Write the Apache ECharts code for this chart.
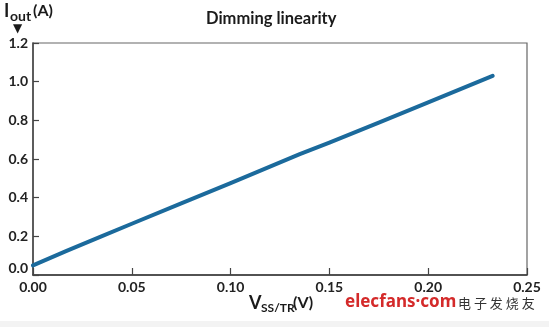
<!DOCTYPE html>
<html><head><meta charset="utf-8">
<script src="https://cdn.jsdelivr.net/npm/echarts@6/dist/echarts.min.js"></script>
<style>html,body{margin:0;padding:0;background:#fff}#c{width:549px;height:327px}</style>
</head><body><div id="c"></div>
<script>
const vss = [0, 0.017, 0.034, 0.05, 0.075, 0.1, 0.135, 0.15, 0.175, 0.2, 0.2326];
const iout = [0.05, 0.125, 0.197, 0.265, 0.37, 0.475, 0.625, 0.685, 0.788, 0.893, 1.03];
const yTicks = [0, 0.2, 0.4, 0.6, 0.8, 1.0, 1.2];
const xTicks = [0, 0.05, 0.10, 0.15, 0.20, 0.25];
const FONT = 'Lato, "DejaVu Sans", sans-serif';
function T(x, y, text, size, color, family) {
  return {type: 'text', left: x, top: y, style: {text: text, fontSize: size, fontWeight: 'bold',
    fontFamily: family || FONT, fill: color || '#1a1a1a'}};
}
const chart = echarts.init(document.getElementById('c'), null, {renderer: 'canvas'});
chart.setOption({
  animation: false,
  backgroundColor: '#fff',
  grid: {left: 33, right: 22, top: 43, bottom: 52, show: true, borderColor: '#666', borderWidth: 1.2},
  xAxis: {
    type: 'value', min: 0, max: 0.25, interval: 0.05,
    axisLine: {show: true, onZero: false, lineStyle: {color: '#333', width: 1.5}},
    axisTick: {show: true, inside: true, length: 7, lineStyle: {color: '#444', width: 1.2}},
    splitLine: {show: false},
    axisLabel: {color: '#222', fontFamily: FONT, fontWeight: 'bold', fontSize: 14, margin: 5,
      formatter: v => v.toFixed(2)}
  },
  yAxis: {
    type: 'value', min: 0, max: 1.2, interval: 0.2,
    axisLine: {show: true, lineStyle: {color: '#444', width: 1.5}},
    axisTick: {show: true, inside: true, length: 6, lineStyle: {color: '#444', width: 1.2}},
    splitLine: {show: false},
    axisLabel: {color: '#222', fontFamily: FONT, fontWeight: 'bold', fontSize: 14, margin: 5,
      formatter: v => v === 0 ? '{z|0.0}' : v.toFixed(1),
      rich: {z: {fontFamily: FONT, fontWeight: 'bold', fontSize: 14, color: '#222', padding: [0, 0, 14, 0]}}}
  },
  series: [{
    type: 'line', data: vss.map((x, i) => [x, iout[i]]),
    showSymbol: false, smooth: false,
    lineStyle: {color: '#1b6a9c', width: 4, cap: 'round', join: 'round'}
  }],
  graphic: [
    T(206, 10, 'Dimming linearity', 16.5),
    T(4, 2, 'I', 18),
    T(10, 9, 'out', 14),
    T(33, 3, '(A)', 16),
    {type: 'text', left: 13, top: 23, style: {text: '▼', fontSize: 12, fontFamily: '"DejaVu Sans"', fill: '#1a1a1a'}},
    T(249, 294, 'V', 18),
    T(261, 302, 'SS/TR', 12),
    T(293, 295, '(V)', 16),
    T(345, 294, 'elecfans·com', 17, '#d42a2a', '"Noto Sans", sans-serif'),
    {type: 'text', left: 458, top: 297, style: {text: '电 子 发 烧 友', fontSize: 13, fontFamily: '"Noto Sans CJK SC"', fill: '#333'}},
    {type: 'rect', left: 0, top: 321, shape: {width: 549, height: 6}, style: {fill: '#f3f3f3'}}
  ]
});
</script></body></html>
